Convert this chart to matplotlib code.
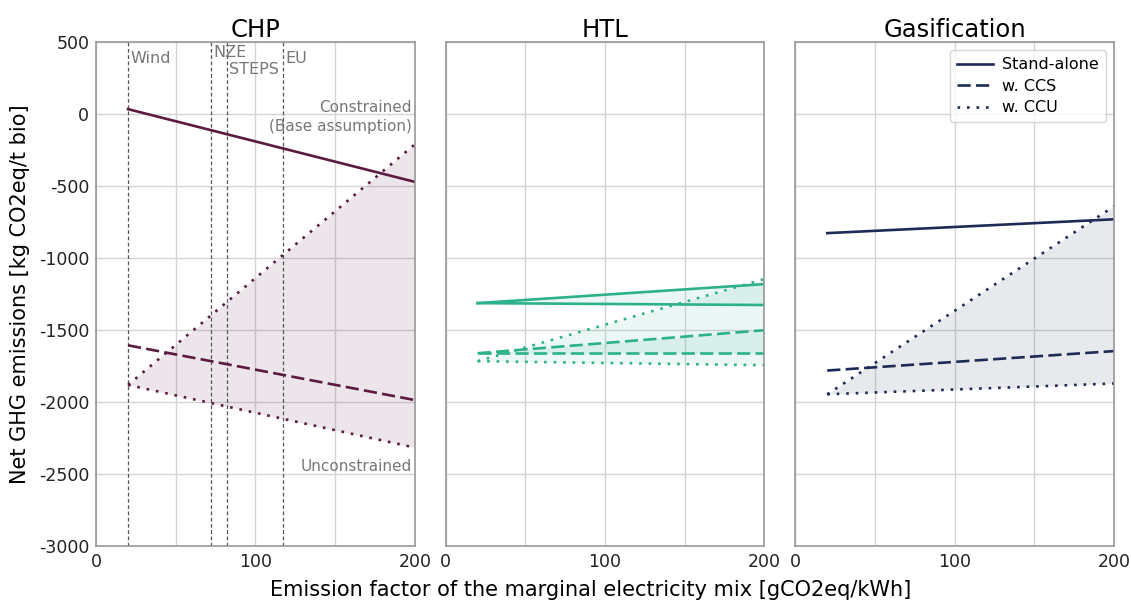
import matplotlib.pyplot as plt

plt.rcParams['font.family'] = ['DejaVu Sans']
plt.rcParams['axes.unicode_minus'] = False

# electricity emission factor range [gCO2eq/kWh]
x = [20, 200]

# CHP
chp_standalone = [35, -470]
chp_ccs = [-1605, -1985]
chp_ccu_hi = [-1880, -210]   # constrained (base assumption)
chp_ccu_lo = [-1880, -2315]  # unconstrained

# HTL
htl_standalone_hi = [-1312, -1180]
htl_standalone_lo = [-1312, -1325]
htl_ccs_hi = [-1660, -1500]
htl_ccs_lo = [-1660, -1660]
htl_ccu_hi = [-1715, -1145]
htl_ccu_lo = [-1715, -1743]

# Gasification
gas_standalone = [-826, -730]
gas_ccs = [-1780, -1645]
gas_ccu_hi = [-1945, -640]
gas_ccu_lo = [-1945, -1870]

scenarios = ['Wind', 'NZE', 'STEPS', 'EU']
scenario_ef = [20, 72, 82, 117]

c_chp = '#5b1a40'
c_htl = '#2cb18a'
c_gas = '#1d2b55'

DASH = (0, (5, 2))
DOT = (0, (1, 2.6))

fig, axes = plt.subplots(1, 3, figsize=(11.31, 6.11), dpi=100, sharey=True)
fig.subplots_adjust(left=0.085, right=0.985, top=0.931, bottom=0.106, wspace=0.097)

lw = 1.9
for ax in axes:
    ax.set_xlim(0, 200)
    ax.set_ylim(-3000, 500)
    ax.set_xticks([0, 100, 200])
    ax.set_xticks([50, 150], minor=True)
    ax.set_yticks(range(-3000, 501, 500))
    ax.grid(True, which='both', color='#d4d4d4', lw=1)
    ax.set_axisbelow(True)
    ax.tick_params(which='both', length=0, labelsize=12.5, pad=5, labelcolor='#222222')
    for s in ax.spines.values():
        s.set_color('#999999')
        s.set_linewidth(1.2)

# CHP
ax = axes[0]
ax.plot(x, chp_standalone, color=c_chp, lw=lw, ls='-')
ax.plot(x, chp_ccs, color=c_chp, lw=lw, ls=DASH)
ax.plot(x, chp_ccu_hi, color=c_chp, lw=lw, ls=DOT)
ax.plot(x, chp_ccu_lo, color=c_chp, lw=lw, ls=DOT)
ax.fill_between(x, chp_ccu_lo, chp_ccu_hi, color=c_chp, alpha=0.11, lw=0)
for name, ef in zip(scenarios, scenario_ef):
    ax.axvline(ef, color='#555555', lw=0.9, ls=(0, (3, 2)), zorder=1)
label_y = {'Wind': 390, 'NZE': 425, 'STEPS': 310, 'EU': 390}
for name, ef in zip(scenarios, scenario_ef):
    ax.text(ef + 1.5, label_y[name], name, color='#777777', fontsize=11.5, va='center', ha='left')
ax.text(198, 95, 'Constrained\n(Base assumption)', color='#777777', fontsize=11,
        ha='right', va='top', linespacing=1.3)
ax.text(198, -2445, 'Unconstrained', color='#777777', fontsize=11, ha='right', va='center')
ax.set_title('CHP', fontsize=17.5, pad=4)
ax.set_ylabel('Net GHG emissions [kg CO2eq/t bio]', fontsize=15, labelpad=6)

# HTL
ax = axes[1]
ax.plot(x, htl_standalone_hi, color=c_htl, lw=lw, ls='-')
ax.plot(x, htl_standalone_lo, color=c_htl, lw=lw, ls='-')
ax.plot(x, htl_ccs_hi, color=c_htl, lw=lw, ls=DASH)
ax.plot(x, htl_ccs_lo, color=c_htl, lw=lw, ls=DASH)
ax.plot(x, htl_ccu_hi, color=c_htl, lw=lw, ls=DOT)
ax.plot(x, htl_ccu_lo, color=c_htl, lw=lw, ls=DOT)
ax.fill_between(x, htl_standalone_lo, htl_standalone_hi, color=c_htl, alpha=0.09, lw=0)
ax.fill_between(x, htl_ccs_lo, htl_ccs_hi, color=c_htl, alpha=0.09, lw=0)
ax.fill_between(x, htl_ccu_lo, htl_ccu_hi, color=c_htl, alpha=0.09, lw=0)
ax.set_title('HTL', fontsize=17.5, pad=4)

# Gasification
ax = axes[2]
ax.plot(x, gas_standalone, color=c_gas, lw=lw, ls='-', label='Stand-alone')
ax.plot(x, gas_ccs, color=c_gas, lw=lw, ls=DASH, label='w. CCS')
ax.plot(x, gas_ccu_hi, color=c_gas, lw=lw, ls=DOT, label='w. CCU')
ax.plot(x, gas_ccu_lo, color=c_gas, lw=lw, ls=DOT)
ax.fill_between(x, gas_ccu_lo, gas_ccu_hi, color=c_gas, alpha=0.1, lw=0)
ax.set_title('Gasification', fontsize=17.5, pad=4)
leg = ax.legend(loc='upper right', fontsize=11.5, frameon=True, handlelength=2.2,
                handletextpad=0.6, borderpad=0.45, labelspacing=0.4)
leg.get_frame().set_edgecolor('#cccccc')

fig.text(0.522, 0.018, 'Emission factor of the marginal electricity mix [gCO2eq/kWh]',
         ha='center', va='bottom', fontsize=15)

fig.savefig('out.png', dpi=100)
